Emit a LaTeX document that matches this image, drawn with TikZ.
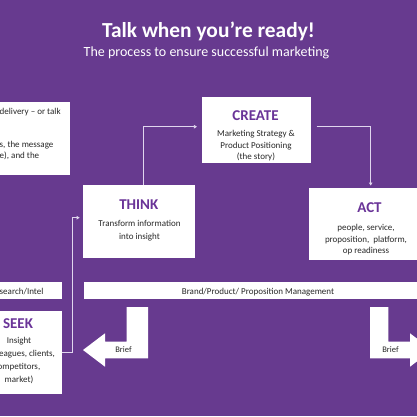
\documentclass[tikz,border=0pt]{standalone}
\usepackage{fontspec}
\setmainfont{Carlito}
\usetikzlibrary{calc,positioning,arrows.meta}

\definecolor{bgpurple}{RGB}{103,58,143}
\definecolor{headpurple}{RGB}{106,52,152}
\definecolor{bodytext}{RGB}{40,40,40}
\definecolor{linecol}{RGB}{224,214,238}

\tikzset{
  panel/.style={fill=white, draw=none, inner sep=0pt},
  panelhead/.style={font=\fontsize{15}{15}\selectfont\bfseries, text=headpurple, inner sep=0pt, anchor=base},
  paneltext/.style={font=\fontsize{9}{11.5}\selectfont, text=bodytext, align=center, inner sep=0pt, anchor=base},
  flow/.style={draw=linecol, line width=0.8pt, -{Triangle[length=3pt,width=3.5pt]}},
  briefarrow/.style={fill=white, draw=none},
}

\begin{document}
\begin{tikzpicture}[x=1pt, y=-1pt]
    % background and frame
    \useasboundingbox (0,0) rectangle (417,416);
    \clip (0,0) rectangle (417,416);
    \fill[bgpurple] (0,0) rectangle (417,416);

    % heading
    \node[font=\fontsize{21.4}{21.4}\selectfont\bfseries, text=white, inner sep=0pt, anchor=base] (title) at (208.5,37.7) {Talk when you’re ready!};
    \node[font=\fontsize{14}{14}\selectfont, text=white, inner sep=0pt, anchor=base] (subtitle) at (206.5,56.7) {The process to ensure successful marketing};

    % panels (text nodes sit on the baseline of their last line)
    \node[panel, minimum width=130, minimum height=72.7] (deliver) at (5,138.7) {};
    \node[paneltext, font=\fontsize{9}{11}\selectfont, align=left, anchor=base west] (delivertxt) at (-0.5,158) {delivery -- or talk\\ \\ \\ s, the message\\ e), and the};

    \node[panel, minimum width=109.3, minimum height=66.6] (create) at (256.3,130) {};
    \node[panelhead] (createhead) at (255.5,120.7) {CREATE};
    \node[paneltext] (createtxt) at (256,159.5) {Marketing Strategy \&\\ Product Positioning\\ (the story)};

    \node[panel, minimum width=111.7, minimum height=73.3] (think) at (139.2,221.7) {};
    \node[panelhead] (thinkhead) at (138.8,209.3) {THINK};
    \node[paneltext, font=\fontsize{9}{13.3}\selectfont] (thinktxt) at (139.5,239.8) {Transform information\\ into insight};

    \node[panel, minimum width=114.7, minimum height=71.7] (act) at (366.7,224.2) {};
    \node[panelhead] (acthead) at (369.5,212.7) {ACT};
    \node[paneltext] (acttxt) at (366,253.5) {people, service,\\ proposition,\ \ platform,\\ op readiness};

    \node[panel, minimum width=85.4, minimum height=83.3] (seek) at (19,352.4) {};
    \node[panelhead] (seekhead) at (18,328.3) {SEEK};
    \node[paneltext, font=\fontsize{9}{13}\selectfont] (seektxt) at (19,382) {Insight\\ \hspace*{16pt}eagues, clients,\\ ompetitors,\\ market)};

    % bars
    \node[panel, minimum width=102, minimum height=17] (research) at (11,290.8) {};
    \node[paneltext, anchor=base west] (researchtxt) at (-0.5,294.5) {search/Intel};
    \node[panel, minimum width=345.4, minimum height=17] (brand) at (257,290.8) {};
    \node[paneltext] (brandtxt) at (258,294.5) {Brand/Product/ Proposition Management};

    % connectors
    \draw[flow] ($(think.north)+(4.1,0)$) |- ($(create.west)+(-4.5,-3.3)$);
    \draw[flow] ($(create.east)+(5.5,-3.3)$) -| ($(act.north)+(4,-2.6)$);
    \draw[flow] ($(seek.east)+(0,0.3)$) -- ++(10.5,0) |- ($(think.west)+(-3.5,-4)$);

    % brief arrows
    \fill[briefarrow] (126.7,307) -- (148,307) -- (148,358.3) -- (105,358.3) -- (105,366.7)
        -- (83,350) -- (105,333.3) -- (105,341.7) -- (126.7,341.7) -- cycle;
    \fill[briefarrow] (388.3,307) -- (370,307) -- (370,358.3) -- (410,358.3) -- (410,366.7)
        -- (432,350) -- (410,333.3) -- (410,341.7) -- (388.3,341.7) -- cycle;
    \node[paneltext, font=\fontsize{8.5}{8.5}\selectfont] (briefleft) at (123.5,352.5) {Brief};
    \node[paneltext, font=\fontsize{8.5}{8.5}\selectfont] (briefright) at (390.5,352.5) {Brief};
\end{tikzpicture}
\end{document}
